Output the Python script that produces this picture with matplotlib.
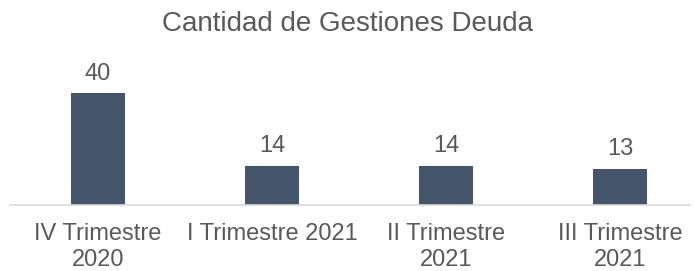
import matplotlib.pyplot as plt

categories = ["IV Trimestre\n2020", "I Trimestre 2021", "II Trimestre\n2021", "III Trimestre\n2021"]
values = [40, 14, 14, 13]

plt.rcParams['font.family'] = ['Liberation Sans', 'DejaVu Sans']
grey = '#595959'

fig = plt.figure(figsize=(6.94, 2.71), dpi=100)
ax = fig.add_axes([10/694, 1 - 205/271, 680/694, 140/271])
x = range(len(values))
bars = ax.bar(x, values, width=0.31, color='#44546A')
for xi, v in zip(x, values):
    ax.annotate(str(v), (xi, v), xytext=(0, 6), textcoords='offset points',
                ha='center', va='bottom', fontsize=17, color=grey)

ax.set_xlim(-0.506, 3.40)
ax.set_ylim(0, 50)
ax.set_xticks(list(x))
ax.set_xticklabels(categories, fontsize=17, color=grey, linespacing=1.22)
ax.tick_params(axis='x', length=0, pad=13)
ax.set_yticks([])
for s in ['top', 'left', 'right']:
    ax.spines[s].set_visible(False)
ax.spines['bottom'].set_color('#d9d9d9')
ax.spines['bottom'].set_linewidth(1.2)

fig.text(0.5, 1 - 24/271, "Cantidad de Gestiones Deuda", ha='center', va='center',
         fontsize=20, color=grey)

fig.savefig("out.png", dpi=100)
